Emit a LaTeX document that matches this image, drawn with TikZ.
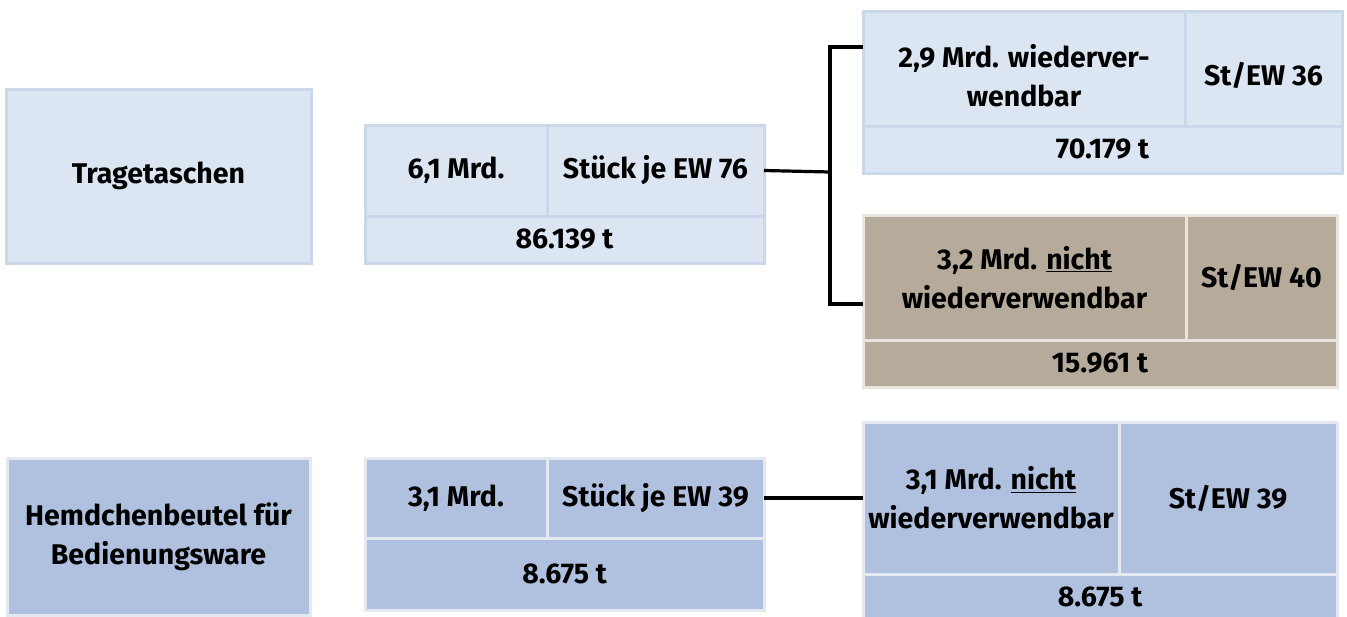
\documentclass[tikz,border=0pt]{standalone}
\usepackage{fontspec}
\setmainfont{Fira Sans}
\definecolor{lbfill}{HTML}{DCE6F2}
\definecolor{lbline}{HTML}{CBD8EC}
\definecolor{brfill}{HTML}{B6AA9A}
\definecolor{brline}{HTML}{E8E4DE}
\definecolor{dbfill}{HTML}{AFC1DF}
\definecolor{dbline}{HTML}{E3E8F1}
\tikzset{
  celltext/.style={inner sep=0pt, align=center,
    font=\fontsize{28.5}{39}\selectfont\bfseries},
  cellbase/.style={celltext, rectangle, anchor=north west, outer sep=0pt,
    line width=3pt},
  lightcell/.style={cellbase, fill=lbfill, draw=lbline},
  browncell/.style={cellbase, fill=brfill, draw=brline},
  darkcell/.style={cellbase, fill=dbfill, draw=dbline},
  wire/.style={line width=3.2pt, black}
}
\begin{document}
\begin{tikzpicture}[x=1pt, y=-1pt]
\useasboundingbox (0,0) rectangle (1347,616);

% Tragetaschen row
\node[lightcell, minimum width=305pt, minimum height=174pt] (trag) at (6,89) {Tragetaschen};
\node[lightcell, minimum width=182pt, minimum height=91pt] (tA) at (365,125) {6,1 Mrd.};
\node[lightcell, minimum width=217pt, minimum height=91pt] (tB) at (547,125) {Stück je EW 76};
\node[lightcell, minimum width=399pt, minimum height=47pt] (tC) at (365,216) {86.139 t};

% reusable bags
\node[lightcell, minimum width=322pt, minimum height=115pt] (wA) at (863,11) {};
\node[celltext] (wAt) at ([yshift=-7pt]wA.center) {2,9 Mrd. wiederver-\\wendbar};
\node[lightcell, minimum width=157pt, minimum height=115pt] (wB) at (1185,11) {};
\node[celltext] (wBt) at ([yshift=-7pt]wB.center) {St/EW 36};
\node[lightcell, minimum width=479pt, minimum height=47pt] (wC) at (863,126) {70.179 t};

% non-reusable bags
\node[browncell, minimum width=323pt, minimum height=125pt] (nA) at (863,215) {3,2 Mrd. \underline{nicht}\\wiederverwendbar};
\node[browncell, minimum width=151pt, minimum height=125pt] (nB) at (1186,215) {St/EW 40};
\node[browncell, minimum width=474pt, minimum height=47pt] (nC) at (863,340) {15.961 t};

% Hemdchenbeutel row
\node[darkcell, minimum width=303pt, minimum height=157pt] (hemd) at (7,458) {Hemdchenbeutel für\\Bedienungsware};
\node[darkcell, minimum width=182pt, minimum height=80pt] (hA) at (365,458) {3,1 Mrd.};
\node[darkcell, minimum width=217pt, minimum height=80pt] (hB) at (547,458) {Stück je EW 39};
\node[darkcell, minimum width=399pt, minimum height=72pt] (hC) at (365,538) {8.675 t};

\node[darkcell, minimum width=256pt, minimum height=152pt] (gA) at (863,422) {3,1 Mrd. \underline{nicht}\\wiederverwendbar};
\node[darkcell, minimum width=218pt, minimum height=152pt] (gB) at (1119,422) {St/EW 39};
\node[darkcell, minimum width=474pt, minimum height=46pt] (gC) at (863,574) {8.675 t};

% connectors
\coordinate (split) at (830,172);
\draw[wire] (tB.east) -- (split);
\draw[wire] (split) |- ([yshift=21.5pt]wA.west);
\draw[wire] (split) |- ([yshift=-26.5pt]nA.west);
\draw[wire] (hB.east) -- (gA.west);
\end{tikzpicture}
\end{document}
